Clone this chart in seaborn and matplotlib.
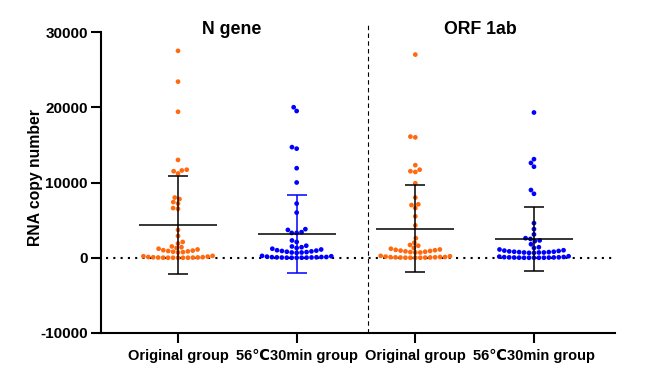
import numpy as np
import pandas as pd
import matplotlib
matplotlib.use("Agg")
import matplotlib.pyplot as plt
import matplotlib.transforms as mtransforms
import seaborn as sns

# ---- data ----
categories = ["N_orig", "N_heat", "O_orig", "O_heat"]
tick_labels = ["Original group", "56℃30min group", "Original group", "56℃30min group"]
panel_titles = ["N gene", "ORF 1ab"]
treatments = ["orig", "heat", "orig", "heat"]

n_orig = [27500, 23400, 19400, 13000, 11700, 11600, 11500, 11200, 8000, 7800, 7400,
          7200, 6600, 6500, 3700, 2900, 2100, 1900, 1500, 1400, 1300, 1200, 1100, 1000,
          950, 900, 850, 800, 750, 700, 250, 200, 150, 100, 80, 60, 40, 30, 20, 10, 5,
          0, 0, 0, 0]
n_heat = [20000, 19500, 14700, 14500, 11900, 10000, 7200, 6000, 3800, 3700, 3400, 3300,
          3300, 2300, 2100, 1600, 1500, 1400, 1300, 1200, 1100, 1000, 950, 900, 850, 800,
          750, 700, 700, 650, 250, 200, 150, 100, 100, 80, 60, 50, 40, 30, 20, 10, 5, 0, 0]
orf_orig = [27000, 16100, 16000, 12300, 11700, 11500, 11400, 9900, 8000, 7100, 7000,
            6600, 5500, 4300, 2600, 2000, 1700, 1600, 1300, 1200, 1100, 1050, 1000, 950,
            900, 850, 800, 750, 700, 700, 250, 200, 150, 100, 100, 80, 60, 50, 40, 30,
            20, 10, 5, 0, 0]
orf_heat = [19300, 13100, 12600, 12100, 9000, 8500, 4600, 3800, 3100, 2600, 2500, 2300,
            2200, 1800, 1400, 1300, 1100, 1000, 950, 900, 850, 800, 800, 750, 750, 700,
            700, 700, 650, 650, 200, 150, 100, 80, 60, 50, 40, 30, 20, 10, 5, 0, 0, 0, 0]

point_colors = {"orig": "#FF6A10", "heat": "#0000FF"}
err_colors = ["black", "#0000FF", "black", "black"]

sns.set_theme(style="ticks", rc={"axes.edgecolor": "black", "xtick.color": "black",
                                 "ytick.color": "black", "text.color": "black",
                                 "axes.labelcolor": "black"})
plt.rcParams["font.family"] = ["Liberation Sans", "DejaVu Sans"]
plt.rcParams["font.weight"] = "bold"
plt.rcParams["axes.unicode_minus"] = False

rows = []
for cat, trt, vals in zip(categories, treatments, [n_orig, n_heat, orf_orig, orf_heat]):
    for v in vals:
        rows.append((cat, trt, v))
df = pd.DataFrame(rows, columns=["group", "treatment", "value"])

fig = plt.figure(figsize=(6.63, 3.87), dpi=100)
ax = fig.add_axes([101 / 663, 1 - 333 / 387, 514 / 663, 301 / 387])

sns.swarmplot(data=df, x="group", y="value", hue="treatment", order=categories,
              palette=point_colors, size=3.4, legend=False, ax=ax, linewidth=0, zorder=2)

stats = df.groupby("group")["value"].agg(["mean", "std"]).reindex(categories)
for i, cat in enumerate(categories):
    m, s = stats.loc[cat, "mean"], stats.loc[cat, "std"]
    ax.errorbar(i, m, yerr=s, color=err_colors[i], capsize=7, elinewidth=1.1,
                capthick=1.1, zorder=4, fmt="none")
    ax.hlines(m, i - 0.33, i + 0.33, color="black", lw=1.1, zorder=4)

ax.set_ylim(-10000, 30000)
ax.set_yticks([-10000, 0, 10000, 20000, 30000])
ax.set_xlim(-0.649, 3.683)
ax.set_xticks(range(4))
ax.set_xticklabels(tick_labels)
ax.set_xlabel("")
ax.set_ylabel("")
for sp in ["top", "right"]:
    ax.spines[sp].set_visible(False)
for sp in ["left", "bottom"]:
    ax.spines[sp].set_linewidth(1.5)
ax.tick_params(axis="both", length=7.5, width=1.5, color="black")
ax.tick_params(axis="y", pad=2, labelsize=11)
ax.tick_params(axis="x", pad=4, labelsize=10.5)

ax.axhline(0, xmin=0.01, xmax=0.995, color="black", lw=1.5, linestyle=(0, (1, 2.5)), zorder=1)
ax.axvline(1.6, ymin=0, ymax=1.03, color="black", lw=0.8, ls=(0, (4, 3)), clip_on=False)

trans = mtransforms.blended_transform_factory(ax.transData, fig.transFigure)
ax.text(0.455, 1 - 29 / 387, panel_titles[0], transform=trans, ha="center", va="center",
        fontsize=12.8, fontweight="bold")
ax.text(2.545, 1 - 29 / 387, panel_titles[1], transform=trans, ha="center", va="center",
        fontsize=12.8, fontweight="bold")

fig.text(36 / 663, 1 - 178 / 387, "RNA copy number", rotation=90, ha="center",
         va="center", fontsize=11.3, fontweight="bold")

fig.savefig("out.png", dpi=100)
